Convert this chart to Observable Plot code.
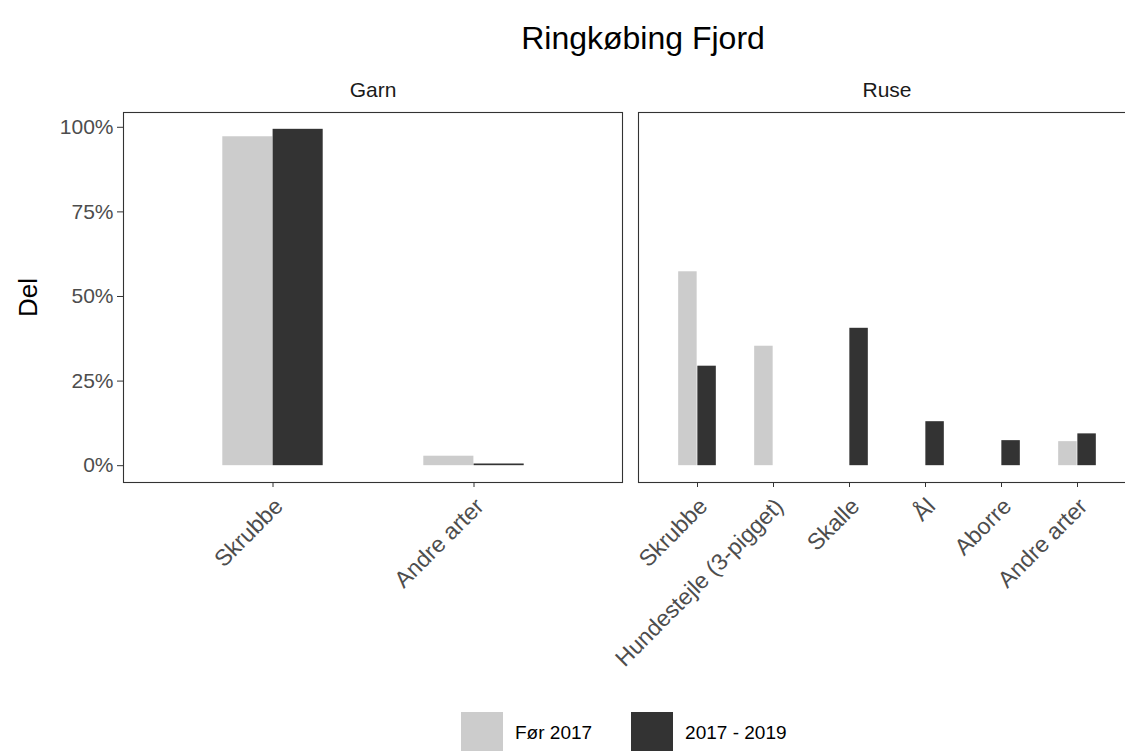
<!DOCTYPE html>
<html>
<head>
<meta charset="utf-8">
<script src="https://cdn.jsdelivr.net/npm/d3@7"></script>
<script src="https://cdn.jsdelivr.net/npm/@observablehq/plot@0.6"></script>
<style>
  html, body { margin: 0; padding: 0; background: #fff; }
  body { font-family: "Liberation Sans", Arial, sans-serif; }
  #wrap { position: relative; width: 1125px; height: 751px; overflow: hidden; background: #fff; }
  #title { position: absolute; left: 343px; width: 600px; top: 22px; text-align: center; font-size: 32px; line-height: 1; color: #000; }
  #garn { position: absolute; left: 0; top: 0; }
  #ruse { position: absolute; left: 636px; top: 0; width: 500px; }
  #wrap svg { max-width: none !important; }
  #legend { position: absolute; left: 461px; top: 712px; }
  #legend .lg-swatch { margin-right: 39px !important; font-size: 19px; color: #000; }
  #legend .lg-swatch > svg { margin-right: 12px !important; }
</style>
</head>
<body>
<div id="wrap">
  <div id="title">Ringkøbing Fjord</div>
  <div id="garn"></div>
  <div id="ruse"></div>
  <div id="legend"></div>
</div>
<script>
// ---- data ----
const periods = ["Før 2017", "2017 - 2019"];
const periodColors = ["#cccccc", "#333333"];

const garnSpecies = ["Skrubbe", "Andre arter"];
const garnFor2017 = [0.972, 0.028];
const garn2017to2019 = [0.994, 0.005];

const ruseSpecies = ["Skrubbe", "Hundestejle (3-pigget)", "Skalle", "Ål", "Aborre", "Andre arter"];
const ruseFor2017 = [0.573, 0.353, 0, 0, 0, 0.071];
const ruse2017to2019 = [0.294, 0, 0.406, 0.130, 0.074, 0.094];

const yTicks = [0, 0.25, 0.5, 0.75, 1];
const yTickLabels = ["0%", "25%", "50%", "75%", "100%"];

// ---- chart ----
const yMax = Math.max(...garnFor2017, ...garn2017to2019, ...ruseFor2017, ...ruse2017to2019);
const yDomain = [-0.05 * yMax, 1.05 * yMax];
const font = "Liberation Sans, Arial, sans-serif";

function panel({species, series, strip, width, marginLeft, marginRight, showY}) {
  const rows = [];
  species.forEach((s, i) => periods.forEach((p, j) => rows.push({species: s, period: p, value: series[j][i]})));
  const outer = 0.24;
  const innerW = width - marginLeft - marginRight;
  const step = innerW / (species.length + 2 * outer);
  const marks = [
    Plot.frame({stroke: "#333", strokeWidth: 1.1}),
    Plot.barY(rows.filter(d => d.period === periods[0] && d.value > 0), {
      x: "species", y1: 0, y2: "value", fill: "period",
      insetLeft: step * 0.25, insetRight: step * 0.5
    }),
    Plot.barY(rows.filter(d => d.period === periods[1] && d.value > 0), {
      x: "species", y1: 0, y2: "value", fill: "period",
      insetLeft: step * 0.5, insetRight: step * 0.25
    }),
    Plot.axisX({tickRotate: -45, tickSize: 5, tickPadding: 4, fontSize: 23, fill: "#4d4d4d", stroke: "#333", label: null}),
    Plot.text([strip], {frameAnchor: "top", lineAnchor: "middle", dy: -22, fontSize: 21, fill: "#1a1a1a"})
  ];
  if (showY) {
    marks.push(Plot.axisY({ticks: yTicks, tickFormat: v => yTickLabels[yTicks.indexOf(v)], tickSize: 6, tickPadding: 4, fontSize: 21, fill: "#4d4d4d", stroke: "#333", label: null}));
    marks.push(Plot.text(["Del"], {frameAnchor: "left", textAnchor: "middle", lineAnchor: "middle", dx: -95, rotate: -90, fontSize: 26, fill: "#000"}));
  }
  return Plot.plot({
    width, height: 751,
    marginLeft, marginRight, marginTop: 112, marginBottom: 269,
    style: {fontFamily: font, fontSize: "19px", background: "transparent", overflow: "visible", maxWidth: "none"},
    x: {domain: species, paddingInner: 0, paddingOuter: outer, axis: null},
    y: {domain: yDomain, axis: showY ? undefined : null},
    color: {domain: periods, range: periodColors},
    marks
  });
}

document.getElementById("garn").append(panel({
  species: garnSpecies, series: [garnFor2017, garn2017to2019], strip: "Garn",
  width: 624, marginLeft: 123, marginRight: 2, showY: true
}));
document.getElementById("ruse").append(panel({
  species: ruseSpecies, series: [ruseFor2017, ruse2017to2019], strip: "Ruse",
  width: 500, marginLeft: 2, marginRight: 1, showY: false
}));

// shift rotated tick labels so their top-right corner sits under the tick (ggplot hjust = vjust = 1)
document.querySelectorAll("#wrap svg g[aria-label='x-axis tick label']").forEach(g => {
  g.setAttribute("transform", (g.getAttribute("transform") || "") + " translate(6,11)");
});

document.getElementById("legend").append(Plot.legend({
  color: {domain: periods, range: periodColors},
  legend: "swatches", swatchSize: 42, className: "lg",
  style: {fontFamily: font, fontSize: "19px"}
}));
</script>
</body>
</html>
